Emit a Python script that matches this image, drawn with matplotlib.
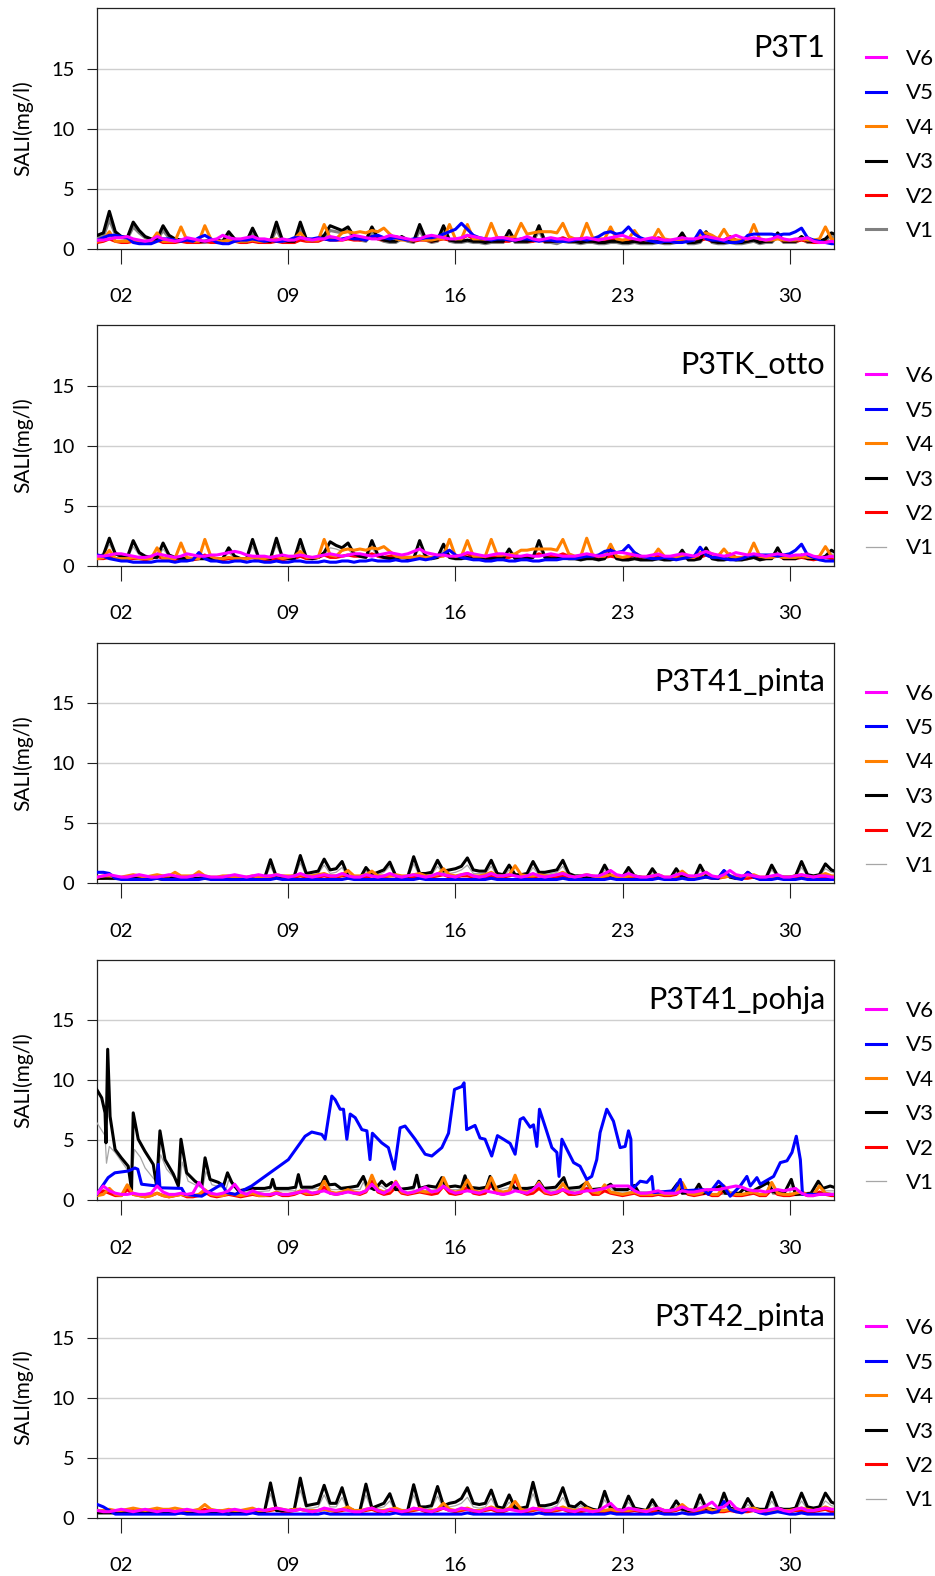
import numpy as np
import matplotlib
matplotlib.use("Agg")
import matplotlib.pyplot as plt

plt.rcParams['font.family'] = ['Lato', 'DejaVu Sans']

PANELS = ["P3T1", "P3TK_otto", "P3T41_pinta", "P3T41_pohja", "P3T42_pinta"]
SERIES = ["V6", "V5", "V4", "V3", "V2", "V1"]
XTICKS = [2, 9, 16, 23, 30]
XTICKLABELS = ["02", "09", "16", "23", "30"]
YTICKS = [0, 5, 10, 15]
YLABEL = "SALI(mg/l)"

# 6-hourly values starting day 1 00:00 (4 values per day)
# ---------------- P3T1 ----------------
P1_V6 = [0.7,0.7,0.8,0.9, 0.9,1.0,0.8,0.7, 0.6,0.7,1.0,0.8, 0.7,0.6,0.7,0.9, 0.8,0.7,0.6,0.7,
         0.8,1.1,0.9,0.8, 0.8,0.9,1.0,0.8, 0.8,0.7,0.7,0.8, 0.7,0.7,0.9,0.8, 0.7,0.8,0.8,1.0,
         0.9,0.7,0.9,1.1, 1.0,0.9,0.8,0.8, 0.9,1.1,1.0,0.9, 0.8,0.7,0.8,1.0, 1.1,1.0,0.9,0.8,
         0.8,0.9,1.1,1.0, 0.9,0.8,0.8,0.9, 0.9,0.8,0.7,0.8, 1.0,0.8,0.7,0.8, 0.9,0.8,0.8,0.7,
         0.8,0.8,0.9,0.8, 0.7,0.8,0.9,1.0, 1.1,0.9,0.8,0.7, 0.8,0.9,0.8,0.7, 0.7,0.8,0.9,0.8,
         0.8,0.9,1.0,0.9, 0.8,0.7,0.9,1.1, 0.9,0.8,0.9,0.8, 0.7,0.8,1.0,0.8, 0.7,0.8,0.8,0.9,
         0.6,0.5,0.5,0.6, 0.5]
P1_V5 = [0.7,0.9,1.1,1.1, 1.0,0.9,0.5,0.4, 0.4,0.4,0.6,0.8, 0.8,0.7,0.6,0.7, 0.6,0.9,1.1,0.8,
         0.5,0.4,0.4,0.6, 0.7,0.7,0.8,0.7, 0.6,0.7,0.6,0.6, 0.7,0.9,0.9,0.8, 0.8,0.9,0.8,0.7,
         0.7,0.8,0.9,0.8, 0.8,0.7,1.0,1.1, 0.9,0.8,0.9,0.8, 0.7,0.8,0.8,0.9, 0.9,1.0,1.2,1.4,
         1.6,2.1,1.6,1.1, 0.9,0.8,0.7,0.8, 0.8,0.7,0.7,0.8, 0.8,0.7,0.6,0.7, 0.7,0.6,0.6,0.6,
         0.7,0.8,0.7,0.8, 1.0,1.3,1.4,1.2, 1.3,1.8,1.2,0.9, 0.7,0.6,0.5,0.6, 0.6,0.5,0.5,0.6,
         0.7,1.5,0.8,0.7, 0.7,0.6,0.5,0.5, 0.6,1.1,1.2,1.2, 1.2,1.2,1.1,1.2, 1.2,1.4,1.7,0.9,
         0.7,0.6,0.5,0.4, 0.4]
P1_V4 = [0.6,0.7,1.4,0.6, 0.6,0.6,0.7,0.6, 0.6,0.6,1.3,0.6, 0.6,0.6,1.8,0.7, 0.6,0.6,1.9,0.8,
         0.6,0.6,0.7,0.6, 0.6,0.6,0.7,0.6, 0.6,0.7,0.8,0.6, 0.7,0.8,1.3,0.7, 0.7,0.7,2.0,0.9,
         0.8,1.3,1.4,1.3, 1.4,1.3,1.5,1.4, 1.7,1.2,0.8,0.7, 0.7,0.7,0.8,0.7, 0.7,0.8,0.8,2.0,
         0.8,0.8,2.0,0.8, 0.8,0.8,2.1,0.9, 0.9,0.9,1.0,2.1, 1.2,1.3,1.4,1.4, 1.4,1.3,2.1,1.0,
         0.8,0.8,2.1,0.9, 0.8,0.8,1.8,0.8, 0.7,0.8,1.5,0.8, 0.7,0.7,1.6,0.8, 0.7,0.7,0.8,0.7,
         0.7,1.2,1.3,1.1, 0.8,1.6,0.8,0.7, 0.7,0.8,2.0,0.8, 0.7,0.7,0.8,0.7, 0.7,0.7,0.8,0.7,
         0.7,0.8,1.8,0.8, 0.7]
P1_V3 = [1.1,1.3,3.1,1.4, 1.0,0.9,2.2,1.5, 1.0,0.8,0.8,1.9, 1.1,0.8,0.7,0.7, 0.7,0.6,0.6,0.7,
         0.7,0.6,1.4,0.8, 0.6,0.6,1.7,0.7, 0.6,0.6,2.2,0.7, 0.6,0.6,2.2,0.8, 0.7,0.8,1.1,1.9,
         1.7,1.5,1.8,1.0, 0.8,0.7,1.8,0.9, 0.7,0.6,0.6,1.0, 0.7,0.6,2.0,0.8, 0.6,0.7,1.9,0.7,
         0.6,0.6,0.7,0.6, 0.6,0.5,0.6,0.6, 0.6,1.5,0.6,0.6, 0.6,0.7,1.9,0.6, 0.6,0.6,0.8,0.6,
         0.6,0.5,0.6,0.6, 0.5,0.5,0.6,0.6, 0.5,0.5,0.6,0.5, 0.5,0.5,0.6,0.5, 0.5,0.6,1.3,0.5,
         0.5,0.6,1.4,0.6, 0.5,0.5,0.6,0.5, 0.5,0.6,0.7,0.5, 0.6,0.6,1.3,0.6, 0.6,0.6,1.0,0.6,
         0.6,0.6,0.8,1.3, 1.1]
P1_V2 = [0.5,0.6,0.8,0.6, 0.5,0.5,0.6,0.5, 0.5,0.5,0.7,0.5, 0.5,0.5,0.6,0.5, 0.5,0.5,0.6,0.5,
         0.5,0.6,0.7,0.6, 0.5,0.5,0.6,0.5, 0.5,0.5,0.6,0.5, 0.5,0.5,0.7,0.6, 0.6,0.6,0.8,0.7,
         0.7,0.7,0.8,0.7, 0.7,0.8,1.0,0.8, 0.7,0.9,1.0,0.8, 0.7,0.6,0.7,0.7, 0.6,0.7,0.8,0.7,
         0.7,0.8,1.1,0.8, 0.7,0.6,0.7,0.6, 0.6,0.6,0.8,0.7, 0.6,0.6,0.7,0.6, 0.6,0.7,0.9,0.7,
         0.6,0.6,0.7,0.6, 0.6,0.6,0.8,0.7, 0.6,0.6,0.7,0.6, 0.6,0.7,0.9,0.7, 0.6,0.6,0.7,0.6,
         0.6,0.7,0.8,0.6, 0.6,0.7,1.0,0.7, 0.6,0.6,0.8,0.6, 0.6,0.7,0.9,0.6, 0.6,0.6,0.7,0.6,
         0.5,0.5,0.6,0.5, 0.5]
P1_V1 = [0.9,1.0,2.4,1.2, 0.9,0.8,1.8,1.3, 0.9,0.7,0.7,1.5, 0.9,0.7,0.6,0.6, 0.6,0.5,0.5,0.6,
         0.6,0.5,1.1,0.7, 0.5,0.5,1.3,0.6, 0.5,0.5,1.6,0.6, 0.5,0.5,1.7,0.7, 0.6,0.7,0.9,1.5,
         1.4,1.3,1.5,0.9, 0.7,0.6,1.4,0.8, 0.6,0.5,0.5,0.8, 0.6,0.5,1.5,0.7, 0.5,0.6,1.5,0.6,
         0.5,0.5,0.6,0.5, 0.5,0.4,0.5,0.5, 0.5,1.2,0.5,0.5, 0.5,0.6,1.5,0.5, 0.5,0.4,0.6,0.5,
         0.5,0.4,0.5,0.5, 0.4,0.4,0.5,0.5, 0.4,0.4,0.5,0.4, 0.4,0.4,0.5,0.4, 0.4,0.5,1.0,0.4,
         0.4,0.5,1.1,0.5, 0.4,0.4,0.5,0.4, 0.4,0.5,0.6,0.4, 0.5,0.5,1.0,0.5, 0.5,0.5,0.8,0.5,
         0.5,0.5,0.7,1.0, 0.9]

# ---------------- P3TK_otto ----------------
P2_V6 = [0.8,0.8,0.9,1.0, 1.0,0.9,0.8,0.7, 0.7,0.8,1.0,0.9, 0.8,0.7,0.8,1.0, 0.9,0.8,0.8,0.9,
         0.9,1.0,1.1,1.2, 1.1,0.9,0.8,0.8, 0.8,0.7,0.8,0.9, 0.8,0.8,0.9,0.8, 0.7,0.8,0.9,1.0,
         0.9,0.8,0.9,1.0, 1.0,0.9,0.8,0.9, 1.0,1.1,1.0,0.9, 1.0,1.2,1.4,1.1, 1.0,0.9,0.9,0.8,
         0.8,0.9,1.1,1.0, 0.9,0.8,0.9,1.0, 1.0,0.9,0.8,0.8, 0.9,0.8,0.8,0.9, 1.0,0.9,0.8,0.8,
         0.8,0.9,1.0,0.9, 0.8,0.9,1.0,1.1, 1.1,1.0,0.9,0.8, 0.8,0.9,1.0,0.8, 0.8,0.9,1.0,0.9,
         0.8,1.0,1.2,1.0, 0.9,0.8,0.9,1.1, 1.0,0.9,1.0,0.9, 0.8,0.9,1.0,0.9, 0.8,0.9,0.9,1.0,
         0.8,0.7,0.7,0.8, 0.7]
P2_V5 = [0.9,0.8,0.6,0.5, 0.4,0.4,0.3,0.3, 0.3,0.3,0.4,0.4, 0.4,0.3,0.4,0.4, 0.5,1.1,0.6,0.4,
         0.4,0.3,0.3,0.4, 0.4,0.3,0.4,0.4, 0.3,0.3,0.4,0.3, 0.3,0.4,0.4,0.3, 0.3,0.3,0.4,0.3,
         0.3,0.4,0.4,0.3, 0.4,0.4,0.5,0.4, 0.4,0.4,0.5,0.4, 0.4,0.5,0.6,0.5, 0.6,0.8,1.0,1.3,
         0.9,0.7,0.6,0.5, 0.5,0.4,0.4,0.5, 0.5,0.4,0.4,0.5, 0.5,0.4,0.4,0.5, 0.5,0.5,0.6,0.6,
         0.6,0.7,0.8,0.8, 0.9,1.2,1.3,1.1, 1.2,1.7,1.1,0.8, 0.7,0.6,0.6,0.7, 0.6,0.5,0.6,0.7,
         0.8,1.55,0.9,0.7, 0.7,0.6,0.5,0.5, 0.6,0.8,0.9,0.9, 0.9,0.9,0.8,0.9, 1.0,1.3,1.8,0.9,
         0.7,0.5,0.4,0.4, 0.4]
P2_V4 = [0.6,0.7,1.3,0.6, 0.6,0.6,0.7,0.6, 0.6,0.6,1.5,0.6, 0.6,0.6,1.9,0.7, 0.6,0.6,2.2,0.8,
         0.6,0.6,0.7,0.6, 0.6,0.6,0.7,0.6, 0.6,0.7,0.8,0.6, 0.7,0.8,1.2,0.7, 0.7,0.7,2.2,0.9,
         0.8,1.3,1.4,1.3, 1.4,1.3,1.5,1.4, 1.6,1.2,0.8,0.7, 0.7,0.7,0.8,0.7, 0.7,0.8,0.8,2.2,
         0.8,0.8,2.1,0.8, 0.8,0.8,2.2,0.9, 0.9,0.9,1.0,1.3, 1.3,1.4,1.4,1.4, 1.4,1.3,2.2,1.0,
         0.8,0.8,2.3,0.9, 0.8,0.8,1.8,0.8, 0.7,0.8,1.1,0.8, 0.7,0.7,1.4,0.8, 0.7,0.7,0.8,0.7,
         0.7,1.1,1.2,1.0, 0.8,1.4,0.8,0.7, 0.7,0.8,1.9,0.8, 0.7,0.7,0.8,0.7, 0.7,0.7,0.8,0.7,
         0.7,0.8,1.6,0.8, 0.7]
P2_V3 = [0.8,0.9,2.3,1.0, 0.8,0.7,2.1,1.1, 0.8,0.7,0.7,1.9, 0.9,0.7,0.6,0.6, 0.6,0.6,0.6,0.6,
         0.6,0.6,1.5,0.8, 0.6,0.6,2.2,0.7, 0.6,0.6,2.3,0.7, 0.6,0.6,2.2,0.7, 0.6,0.7,1.1,2.0,
         1.7,1.5,1.9,1.0, 0.8,0.7,2.1,0.9, 0.7,0.6,0.6,0.8, 0.6,0.6,2.1,0.8, 0.6,0.7,1.8,0.7,
         0.6,0.6,0.7,0.6, 0.6,0.5,0.6,0.6, 0.6,1.4,0.6,0.6, 0.6,0.7,2.1,0.7, 0.6,0.6,0.7,0.6,
         0.6,0.5,0.6,0.6, 0.5,0.6,1.5,0.6, 0.5,0.5,0.6,0.5, 0.5,0.5,0.6,0.5, 0.5,0.6,1.3,0.5,
         0.5,0.6,1.5,0.6, 0.5,0.5,0.6,0.5, 0.5,0.6,0.7,0.5, 0.6,0.6,1.5,0.6, 0.6,0.6,0.9,0.6,
         0.6,0.6,0.8,1.3, 1.0]
P2_V2 = [0.6,0.6,0.7,0.6, 0.5,0.5,0.6,0.6, 0.5,0.6,0.8,0.6, 0.5,0.5,0.7,0.6, 0.5,0.6,0.9,0.6,
         0.5,0.5,0.6,0.5, 0.5,0.6,0.7,0.5, 0.5,0.5,0.6,0.5, 0.6,0.6,0.8,0.6, 0.6,0.7,0.9,0.7,
         0.7,0.8,0.9,0.8, 0.8,0.8,1.0,0.8, 0.7,0.8,0.9,0.7, 0.7,0.7,0.8,0.7, 0.7,0.7,0.9,0.8,
         0.7,0.8,1.0,0.8, 0.7,0.7,0.8,0.7, 0.7,0.7,0.9,0.7, 0.7,0.8,1.0,0.8, 0.8,0.8,1.0,0.8,
         0.7,0.7,0.9,0.7, 0.7,0.7,0.8,0.7, 0.6,0.7,0.9,0.7, 0.6,0.7,0.8,0.7, 0.6,0.6,0.7,0.6,
         0.6,0.7,0.9,0.7, 0.6,0.7,1.0,0.7, 0.6,0.6,0.8,0.6, 0.6,0.7,0.9,0.6, 0.6,0.6,0.7,0.6,
         0.5,0.6,0.7,0.6, 0.5]
P2_V1 = [0.7,0.8,1.8,0.9, 0.7,0.6,1.6,0.9, 0.7,0.6,0.6,1.4, 0.8,0.6,0.5,0.5, 0.5,0.5,0.5,0.5,
         0.5,0.5,1.1,0.6, 0.5,0.5,1.6,0.6, 0.5,0.5,1.7,0.6, 0.5,0.5,1.6,0.6, 0.5,0.6,0.9,1.5,
         1.4,1.2,1.4,0.8, 0.7,0.6,1.5,0.7, 0.6,0.5,0.5,0.6, 0.5,0.5,1.5,0.6, 0.5,0.6,1.3,0.6,
         0.5,0.5,0.6,0.5, 0.5,0.4,0.5,0.5, 0.5,1.0,0.5,0.5, 0.5,0.6,1.5,0.6, 0.5,0.5,0.6,0.5,
         0.5,0.4,0.5,0.5, 0.4,0.5,1.1,0.5, 0.4,0.4,0.5,0.4, 0.4,0.4,0.5,0.4, 0.4,0.5,1.0,0.4,
         0.4,0.5,1.1,0.5, 0.4,0.4,0.5,0.4, 0.4,0.5,0.6,0.4, 0.5,0.5,1.1,0.5, 0.5,0.5,0.7,0.5,
         0.5,0.5,0.6,1.0, 0.8]

# ---------------- P3T41_pinta ----------------
P3_V6 = [0.5,0.6,0.7,0.6, 0.5,0.5,0.6,0.7, 0.6,0.5,0.5,0.6, 0.7,0.6,0.5,0.5, 0.6,0.7,0.6,0.5,
         0.5,0.5,0.6,0.7, 0.6,0.5,0.6,0.7, 0.6,0.6,0.7,0.6, 0.5,0.6,0.8,0.6, 0.5,0.6,0.7,0.6,
         0.6,0.8,0.6,0.5, 0.5,0.7,0.6,0.5, 0.6,0.8,0.6,0.5, 0.6,0.7,0.6,0.5, 0.6,0.8,0.7,0.6,
         0.5,0.7,0.8,0.6, 0.5,0.6,0.8,0.6, 0.6,0.7,0.6,0.5, 0.6,0.8,0.6,0.5, 0.6,0.7,0.8,0.6,
         0.5,0.6,0.7,0.6, 0.6,0.8,1.05,0.7, 0.6,0.8,0.6,0.5, 0.5,0.6,0.7,0.5, 0.5,0.7,0.8,0.6,
         0.6,0.7,0.9,0.6, 0.5,0.7,1.05,0.7, 0.6,0.7,0.6,0.5, 0.5,0.6,0.7,0.5, 0.5,0.6,0.7,0.6,
         0.5,0.6,0.6,0.5, 0.5]
P3_V5 = [0.9,0.9,0.8,0.4, 0.3,0.3,0.3,0.3, 0.3,0.3,0.4,0.3, 0.3,0.3,0.3,0.3, 0.3,0.3,0.4,0.3,
         0.3,0.3,0.3,0.3, 0.3,0.3,0.3,0.3, 0.3,0.3,0.4,0.3, 0.3,0.3,0.3,0.3, 0.3,0.3,0.3,0.3,
         0.3,0.3,0.4,0.3, 0.3,0.3,0.3,0.3, 0.3,0.3,0.3,0.3, 0.3,0.3,0.4,0.3, 0.3,0.3,0.3,0.3,
         0.3,0.3,0.3,0.3, 0.3,0.3,0.4,0.3, 0.3,0.3,0.3,0.3, 0.3,0.3,0.3,0.3, 0.3,0.3,0.4,0.3,
         0.3,0.3,0.3,0.3, 0.3,0.3,0.4,0.3, 0.3,0.3,0.3,0.3, 0.3,0.3,0.4,0.3, 0.3,0.3,0.4,0.3,
         0.3,0.4,0.5,0.4, 0.4,1.05,0.6,0.4, 0.3,0.9,0.5,0.3, 0.3,0.3,0.4,0.3, 0.3,0.3,0.4,0.3,
         0.3,0.3,0.3,0.3, 0.3]
P3_V4 = [0.5,0.6,0.6,0.5, 0.5,0.6,0.7,0.6, 0.5,0.6,0.7,0.6, 0.6,0.9,0.6,0.6, 0.6,0.95,0.6,0.5,
         0.5,0.6,0.6,0.5, 0.5,0.5,0.6,0.5, 0.5,0.6,0.7,0.6, 0.6,0.6,0.7,0.6, 0.6,0.7,0.8,0.6,
         0.6,0.7,1.05,0.6, 0.6,0.7,1.0,0.6, 0.6,0.6,0.7,0.6, 0.6,0.7,0.8,0.6, 0.6,0.7,1.2,0.7,
         0.6,0.7,0.8,0.6, 0.6,0.7,0.9,0.6, 0.6,0.7,1.45,0.7, 0.6,0.6,0.7,0.6, 0.6,0.7,0.9,0.6,
         0.5,0.6,0.7,0.6, 0.5,0.6,0.7,0.5, 0.5,0.6,0.6,0.5, 0.5,0.6,0.7,0.5, 0.5,0.6,1.0,0.6,
         0.5,0.6,0.9,0.5, 0.5,0.5,0.6,0.5, 0.5,0.6,0.7,0.5, 0.5,0.5,0.6,0.5, 0.5,0.6,0.7,0.5,
         0.5,0.6,0.8,0.6, 0.6]
P3_V3 = [0.4,0.4,0.4,0.4, 0.4,0.4,0.4,0.4, 0.4,0.4,0.4,0.3, 0.4,0.5,0.4,0.4, 0.4,0.4,0.4,0.4,
         0.4,0.4,0.3,0.3, 0.3,0.4,0.4,0.4, 0.4,1.95,0.5,0.5, 0.5,0.6,2.3,0.8, 0.9,1.0,2.0,1.1,
         1.2,1.8,0.6,0.4, 0.4,1.3,0.7,0.9, 1.1,1.75,0.6,0.5, 0.5,2.2,0.8,0.8, 0.9,1.9,1.0,1.1,
         1.2,1.4,2.1,1.1, 1.0,1.0,1.9,0.8, 0.7,1.5,0.7,0.7, 0.8,1.8,0.9,0.9, 1.0,1.1,1.9,0.8,
         0.6,0.6,0.5,0.5, 0.5,1.5,0.6,0.5, 0.5,1.3,0.6,0.5, 0.4,1.2,0.5,0.4, 0.4,1.2,0.5,0.4,
         0.4,1.5,0.6,0.5, 0.4,1.0,0.5,0.4, 0.4,0.9,0.5,0.4, 0.4,1.5,0.6,0.5, 0.5,0.6,1.8,0.7,
         0.6,0.7,1.6,1.1, 0.9]
P3_V2 = [0.4,0.4,0.5,0.4, 0.4,0.4,0.5,0.4, 0.4,0.4,0.5,0.4, 0.4,0.5,0.5,0.4, 0.4,0.4,0.5,0.4,
         0.4,0.4,0.4,0.4, 0.4,0.4,0.5,0.4, 0.4,0.5,0.5,0.4, 0.4,0.5,0.6,0.5, 0.5,0.5,0.6,0.5,
         0.5,0.6,0.6,0.5, 0.5,0.5,0.6,0.5, 0.5,0.6,0.6,0.5, 0.5,0.5,0.6,0.5, 0.5,0.6,0.7,0.5,
         0.5,0.6,0.6,0.5, 0.5,0.5,0.6,0.5, 0.5,0.6,0.7,0.5, 0.5,0.5,0.6,0.5, 0.5,0.5,0.6,0.5,
         0.4,0.5,0.5,0.4, 0.4,0.5,0.5,0.4, 0.4,0.4,0.5,0.4, 0.4,0.4,0.5,0.4, 0.4,0.5,0.6,0.4,
         0.4,0.5,0.5,0.4, 0.4,0.5,0.6,0.4, 0.4,0.4,0.5,0.4, 0.4,0.4,0.5,0.4, 0.4,0.5,0.5,0.4,
         0.4,0.4,0.5,0.4, 0.4]
P3_V1 = [0.4,0.4,0.3,0.3, 0.3,0.3,0.4,0.3, 0.3,0.3,0.3,0.3, 0.3,0.4,0.3,0.3, 0.3,0.3,0.3,0.3,
         0.3,0.3,0.3,0.3, 0.3,0.3,0.3,0.3, 0.3,1.4,0.4,0.4, 0.4,0.5,1.7,0.6, 0.7,0.8,1.5,0.8,
         0.9,1.3,0.5,0.3, 0.3,1.0,0.6,0.7, 0.9,1.4,0.5,0.4, 0.4,1.6,0.6,0.6, 0.7,1.4,0.8,0.8,
         0.9,1.1,1.5,0.8, 0.8,0.8,1.4,0.6, 0.5,1.1,0.5,0.5, 0.6,1.3,0.7,0.7, 0.8,0.9,1.4,0.6,
         0.5,0.5,0.4,0.4, 0.4,1.1,0.5,0.4, 0.4,1.0,0.5,0.4, 0.3,0.9,0.4,0.3, 0.3,0.9,0.4,0.3,
         0.3,1.1,0.5,0.4, 0.3,0.8,0.4,0.3, 0.3,0.7,0.4,0.3, 0.3,1.1,0.5,0.4, 0.4,0.5,1.3,0.6,
         0.5,0.6,1.2,0.9, 0.8]

# ---------------- P3T41_pohja ----------------
P4_V6 = [0.6,1.2,0.8,0.6, 0.5,0.5,0.6,0.5, 0.5,0.6,1.2,0.7, 0.5,0.5,0.6,0.5, 0.6,1.5,0.8,0.6,
         0.5,0.6,0.8,1.35, 0.7,0.5,0.8,0.6, 0.5,0.5,0.6,0.5, 0.5,0.6,0.7,0.8, 0.6,0.7,0.8,0.6,
         0.5,0.6,0.7,0.6, 0.6,0.8,1.35,0.8, 0.6,0.9,1.5,0.8, 0.6,0.7,0.9,1.1, 0.7,0.8,1.2,0.8,
         0.6,0.7,0.8,0.7, 0.6,0.8,0.7,0.6, 0.5,0.6,0.8,0.7, 0.6,0.9,1.35,0.8, 0.6,0.7,0.9,0.7,
         0.6,0.7,0.8,0.8, 0.9,1.0,1.2,1.2, 1.2,1.2,0.8,0.6, 0.6,0.7,0.8,0.6, 0.6,0.6,0.8,0.7,
         0.7,0.8,0.9,0.9, 0.9,1.0,1.1,1.2, 1.1,0.9,0.8,0.8, 0.7,0.8,0.9,0.8, 0.9,1.0,0.6,0.4,
         0.4,0.5,0.5,0.5, 0.5]
P4_V5 = [(0.97,0.5),(1.45,1.9),(1.73,2.3),(2.29,2.45),(2.57,2.7),(2.69,2.6),(2.85,1.35),
         (3.48,1.2),(3.55,3.0),(3.62,1.05),(4.53,1.0),(4.67,0.5),(5.37,0.35),(6.21,1.35),
         (6.42,0.65),(6.77,0.5),(7.46,1.2),(8.44,2.6),(9.0,3.4),(9.70,5.35),(9.98,5.7),
         (10.40,5.5),(10.54,5.1),(10.82,8.7),(10.96,8.4),(11.17,7.6),(11.31,7.6),(11.45,5.1),
         (11.59,7.2),(11.80,6.9),(12.08,5.9),(12.29,5.8),(12.42,3.4),(12.52,5.6),(12.91,4.8),
         (13.19,4.4),(13.44,2.6),(13.68,6.05),(13.89,6.2),(14.31,5.1),(14.73,3.85),(15.01,3.7),
         (15.43,4.4),(15.71,5.6),(15.96,9.25),(16.27,9.5),(16.36,9.8),(16.47,5.9),(16.82,6.25),
         (17.03,5.2),(17.24,5.1),(17.52,3.7),(17.76,5.4),(18.01,5.1),(18.29,4.75),(18.5,3.85),
         (18.71,6.75),(18.85,6.9),(19.13,6.1),(19.27,6.3),(19.41,4.5),(19.52,7.6),(19.8,5.9),
         (20.04,4.4),(20.25,4.0),(20.34,2.0),(20.46,5.1),(20.67,4.25),(20.95,3.15),(21.22,2.85),
         (21.5,1.75),(21.71,2.0),(21.92,3.4),(22.06,5.65),(22.34,7.6),(22.62,6.6),(22.9,4.4),
         (23.11,4.5),(23.25,5.8),(23.35,5.1),(23.39,0.9),(23.74,1.6),(24.02,1.5),(24.23,2.0),
         (24.3,0.65),(25.14,0.8),(25.42,1.75),(25.53,0.8),(26.39,0.9),(26.6,0.5),(27.02,1.6),
         (27.23,1.2),(27.51,0.35),(27.93,1.2),(28.21,2.0),(28.35,1.2),(28.63,1.9),(28.77,1.35),
         (29.33,2.0),(29.61,3.15),(29.89,3.3),(30.1,4.0),(30.28,5.35),(30.45,3.4),(30.54,0.5),
         (31.91,0.5)]
P4_V4 = [0.4,0.5,1.0,0.5, 0.4,1.3,0.5,0.4, 0.3,0.4,0.6,0.4, 0.3,0.4,0.5,0.4, 0.4,0.5,0.9,0.5,
         0.4,0.4,0.6,0.5, 0.4,0.5,0.6,0.4, 0.4,0.5,0.7,0.5, 0.5,0.6,0.8,0.6, 0.6,0.7,1.6,0.7,
         0.6,0.7,0.9,0.7, 0.6,0.8,2.1,0.9, 0.7,0.8,1.6,0.7, 0.6,0.7,0.8,0.7, 0.7,0.8,1.9,0.8,
         0.7,0.8,1.7,0.8, 0.7,0.8,1.9,0.8, 0.7,0.8,2.1,0.8, 0.7,0.8,1.5,0.7, 0.6,0.7,1.4,0.7,
         0.6,0.7,1.6,0.7, 0.6,1.3,0.7,0.6, 0.5,0.6,0.7,0.5, 0.5,0.5,0.6,0.5, 0.5,0.6,1.5,0.6,
         0.5,0.6,0.8,0.5, 0.5,1.2,0.6,0.5, 0.5,0.6,0.7,0.5, 0.5,1.5,0.6,0.5, 0.5,0.6,0.7,0.5,
         0.5,1.2,0.6,0.5, 0.5]
P4_V3 = [(0.97,9.25),(1.18,8.55),(1.32,7.3),(1.36,4.8),(1.43,12.6),(1.53,7.0),(1.74,4.25),
         (2.0,3.55),(2.29,2.85),(2.43,0.9),(2.5,7.3),(2.71,5.1),(2.99,4.1),(3.34,3.0),(3.48,1.2),
         (3.62,5.8),(3.83,3.4),(4.18,2.2),(4.39,1.2),(4.5,5.1),(4.74,2.3),(5.09,1.6),(5.37,1.2),
         (5.51,3.55),(5.72,1.75),(6.07,1.5),(6.28,1.2),(6.45,2.3),(6.63,1.5),(6.91,0.8),(7.5,1.0),
         (8.0,1.0),(8.25,1.1),(8.34,1.75),(8.45,1.0),(9.0,1.0),(9.3,1.1),(9.42,2.15),(9.55,1.1),
         (10.0,1.1),(10.4,1.4),(10.54,2.0),(10.7,1.3),(10.96,1.35),(11.2,1.0),(11.6,1.1),
         (11.9,1.2),(12.14,2.0),(12.3,1.2),(12.6,0.9),(12.91,1.6),(13.1,1.2),(13.33,1.5),
         (13.5,0.9),(14.0,1.0),(14.25,1.1),(14.38,2.1),(14.5,1.0),(14.87,1.2),(15.2,1.1),
         (15.43,1.9),(15.6,1.1),(15.99,1.2),(16.25,1.1),(16.4,2.05),(16.55,1.1),(17.0,1.0),
         (17.3,1.1),(17.45,2.0),(17.6,1.0),(17.9,1.2),(18.3,1.5),(18.5,1.0),(19.0,1.0),
         (19.35,1.1),(19.5,1.6),(19.7,1.0),(20.2,1.1),(20.54,1.9),(20.7,1.0),(21.2,1.1),
         (21.5,1.5),(21.7,0.9),(22.2,1.0),(22.5,1.35),(22.7,0.9),(23.2,0.9),(23.5,1.25),
         (23.7,0.6),(24.2,0.6),(24.5,0.7),(25.0,0.6),(25.3,1.4),(25.5,0.6),(26.0,0.7),
         (26.2,1.35),(26.4,0.6),(27.1,1.2),(27.3,0.6),(27.9,0.6),(28.1,1.0),(28.3,0.6),
         (29.1,1.5),(29.3,0.7),(29.8,0.7),(30.07,1.75),(30.25,0.5),(30.9,0.6),(31.2,1.6),
         (31.4,1.0),(31.7,1.2),(32.0,1.0)]
P4_V2 = [0.5,0.8,0.6,0.4, 0.4,0.9,0.5,0.4, 0.3,0.4,0.6,0.4, 0.3,0.4,0.5,0.3, 0.3,0.4,0.7,0.4,
         0.3,0.4,0.5,0.4, 0.3,0.4,0.5,0.4, 0.4,0.4,0.6,0.4, 0.4,0.5,0.7,0.5, 0.5,0.6,1.1,0.6,
         0.5,0.6,0.8,0.6, 0.5,0.7,1.6,0.7, 0.5,0.6,1.1,0.6, 0.5,0.6,0.7,0.6, 0.5,0.6,1.2,0.6,
         0.5,0.6,1.1,0.6, 0.5,0.6,1.3,0.6, 0.5,0.7,1.8,0.7, 0.5,0.6,1.0,0.6, 0.5,0.6,0.9,0.5,
         0.5,0.6,1.0,0.5, 0.5,0.8,0.6,0.5, 0.4,0.5,0.6,0.4, 0.4,0.4,0.5,0.4, 0.4,0.5,0.9,0.5,
         0.4,0.5,0.6,0.4, 0.4,0.8,0.5,0.4, 0.4,0.5,0.6,0.4, 0.4,0.9,0.5,0.4, 0.4,0.5,0.6,0.4,
         0.4,0.7,0.5,0.4, 0.4]
P4_V1 = [(0.97,6.5),(1.32,5.4),(1.38,3.1),(1.5,4.5),(1.74,4.0),(2.29,2.45),(2.45,2.2),
         (2.55,4.25),(2.8,3.6),(3.0,2.7),(3.48,1.5),(3.65,3.8),(3.9,2.6),(4.3,1.7),(4.45,1.4),
         (4.55,3.2),(4.8,1.6),(5.4,1.0),(5.55,2.4),(5.8,1.3),(6.4,1.0),(6.5,1.7),(6.9,0.7),
         (7.5,0.7),(8.2,0.8),(8.34,1.3),(8.5,0.8),(9.3,0.8),(9.42,1.6),(9.6,0.9),(10.4,1.0),
         (10.54,1.5),(10.8,0.9),(12.0,0.9),(12.14,1.5),(12.3,0.9),(12.9,1.2),(13.1,0.9),
         (14.25,0.9),(14.38,1.6),(14.5,0.8),(15.3,0.9),(15.43,1.4),(15.6,0.9),(16.25,0.9),
         (16.4,1.5),(16.55,0.9),(17.3,0.9),(17.45,1.5),(17.6,0.8),(18.3,1.1),(18.5,0.8),
         (19.35,0.9),(19.5,1.2),(19.7,0.8),(20.4,0.9),(20.54,1.4),(20.7,0.8),(21.4,0.9),
         (21.5,1.1),(21.7,0.7),(22.4,0.8),(22.5,1.0),(22.7,0.7),(23.4,0.7),(23.5,0.9),
         (23.7,0.5),(25.2,0.5),(25.3,1.0),(25.5,0.5),(26.1,0.5),(26.2,1.0),(26.4,0.5),
         (29.0,0.5),(29.1,1.1),(29.3,0.5),(30.0,0.5),(30.07,1.3),(30.25,0.4),(31.1,0.5),
         (31.2,1.2),(31.4,0.8),(32.0,0.8)]

# ---------------- P3T42_pinta ----------------
P5_V6 = [0.6,0.5,0.5,0.6, 0.7,0.6,0.5,0.6, 0.7,0.6,0.5,0.6, 0.6,0.5,0.6,0.7, 0.6,0.5,0.5,0.6,
         0.6,0.5,0.6,0.7, 0.6,0.5,0.6,0.7, 0.6,0.7,0.8,0.7, 0.6,0.6,0.7,0.6, 0.5,0.6,0.8,0.7,
         0.6,0.7,0.6,0.5, 0.5,0.7,0.8,0.6, 0.5,0.7,0.6,0.5, 0.6,0.8,0.7,0.6, 0.5,0.7,0.8,0.6,
         0.6,0.8,0.7,0.6, 0.5,0.7,0.8,0.6, 0.6,0.7,0.6,0.5, 0.6,0.8,0.7,0.6, 0.6,0.8,0.7,0.6,
         0.5,0.7,0.6,0.5, 0.6,0.9,1.2,0.7, 0.6,0.8,0.7,0.6, 0.5,0.7,0.8,0.6, 0.6,0.7,0.9,0.7,
         0.6,0.8,1.0,1.3, 0.8,0.9,1.35,0.8, 0.6,0.7,0.6,0.5, 0.6,0.7,0.8,0.6, 0.5,0.7,0.8,0.6,
         0.6,0.7,0.8,0.7, 0.7]
P5_V5 = [1.1,0.9,0.6,0.3, 0.3,0.3,0.3,0.3, 0.3,0.3,0.3,0.3, 0.3,0.3,0.4,0.3, 0.3,0.3,0.3,0.3,
         0.3,0.3,0.3,0.3, 0.3,0.3,0.4,0.3, 0.3,0.3,0.3,0.3, 0.3,0.3,0.3,0.3, 0.3,0.3,0.4,0.3,
         0.3,0.3,0.3,0.3, 0.3,0.3,0.3,0.3, 0.3,0.3,0.4,0.3, 0.3,0.3,0.3,0.3, 0.3,0.3,0.3,0.3,
         0.3,0.3,0.4,0.3, 0.3,0.3,0.3,0.3, 0.3,0.3,0.3,0.3, 0.3,0.3,0.4,0.3, 0.3,0.3,0.3,0.3,
         0.3,0.3,0.3,0.3, 0.3,0.3,0.4,0.3, 0.3,0.3,0.3,0.3, 0.3,0.3,0.4,0.3, 0.3,0.3,0.4,0.3,
         0.3,0.4,0.5,0.4, 0.5,1.35,0.7,0.5, 0.4,0.7,0.6,0.4, 0.3,0.4,0.5,0.4, 0.3,0.3,0.4,0.3,
         0.3,0.3,0.3,0.3, 0.3]
P5_V4 = [0.6,0.6,0.7,0.6, 0.6,0.7,0.8,0.7, 0.6,0.7,0.8,0.7, 0.7,0.8,0.7,0.6, 0.6,0.7,1.1,0.7,
         0.6,0.6,0.7,0.6, 0.6,0.7,0.8,0.6, 0.6,0.7,0.8,0.7, 0.6,0.7,0.7,0.6, 0.6,0.6,0.7,0.6,
         0.6,0.7,0.9,0.6, 0.6,0.7,0.8,0.6, 0.6,0.7,0.8,0.6, 0.6,0.7,0.8,0.6, 0.6,0.7,1.2,0.7,
         0.6,0.7,0.8,0.6, 0.6,0.7,0.9,0.7, 0.6,0.8,1.35,0.7, 0.6,0.7,0.8,0.6, 0.6,0.7,0.9,0.7,
         0.6,0.7,0.8,0.6, 0.6,0.6,0.7,0.6, 0.6,0.6,0.7,0.6, 0.6,0.7,0.8,0.6, 0.6,0.7,1.1,0.7,
         0.6,0.7,0.9,0.6, 0.6,0.6,0.7,0.6, 0.6,0.7,0.8,0.6, 0.6,0.6,0.7,0.6, 0.6,0.7,0.8,0.7,
         0.6,0.7,0.9,0.7, 0.7]
P5_V3 = [0.4,0.4,0.4,0.4, 0.4,0.4,0.4,0.4, 0.4,0.4,0.5,0.4, 0.4,0.4,0.4,0.4, 0.4,0.4,0.4,0.4,
         0.4,0.4,0.3,0.4, 0.4,0.4,0.5,0.4, 0.5,2.9,0.6,0.6, 0.6,0.7,3.3,1.0, 1.1,1.2,2.7,1.2,
         1.2,2.5,0.8,0.6, 0.6,2.8,0.8,1.0, 1.2,2.0,0.6,0.6, 0.6,2.75,0.9,0.9, 1.0,2.6,1.0,1.2,
         1.3,1.6,2.5,1.2, 1.1,1.2,2.3,0.9, 0.8,1.9,0.8,0.8, 0.9,2.95,1.0,1.0, 1.1,1.3,2.5,1.0,
         0.9,1.3,0.9,0.7, 0.6,2.2,0.8,0.7, 0.6,1.8,0.8,0.7, 0.6,1.5,0.7,0.6, 0.6,1.4,0.7,0.6,
         0.6,1.9,0.8,0.7, 0.6,2.05,0.8,0.7, 0.6,1.6,0.8,0.7, 0.7,2.1,0.8,0.7, 0.7,0.8,2.05,0.9,
         0.8,0.9,2.05,1.3, 1.1]
P5_V2 = [0.5,0.5,0.6,0.5, 0.5,0.5,0.6,0.5, 0.5,0.6,0.6,0.5, 0.5,0.5,0.6,0.5, 0.5,0.5,0.7,0.5,
         0.5,0.5,0.6,0.5, 0.5,0.5,0.6,0.5, 0.5,0.6,0.7,0.5, 0.5,0.6,0.7,0.6, 0.5,0.6,0.7,0.6,
         0.5,0.6,0.7,0.5, 0.5,0.6,0.7,0.5, 0.5,0.6,0.6,0.5, 0.5,0.6,0.7,0.5, 0.5,0.6,0.8,0.6,
         0.5,0.6,0.7,0.5, 0.5,0.6,0.7,0.5, 0.5,0.7,0.9,0.6, 0.5,0.6,0.7,0.5, 0.5,0.6,0.7,0.5,
         0.5,0.5,0.6,0.5, 0.5,0.5,0.6,0.5, 0.5,0.5,0.6,0.5, 0.5,0.5,0.6,0.5, 0.5,0.6,0.8,0.5,
         0.5,0.6,0.7,0.5, 0.5,0.5,0.6,0.5, 0.5,0.5,0.6,0.5, 0.5,0.5,0.6,0.5, 0.5,0.6,0.6,0.5,
         0.5,0.6,0.7,0.5, 0.5]
P5_V1 = [0.35,0.35,0.35,0.35, 0.35,0.35,0.35,0.35, 0.35,0.35,0.4,0.35, 0.35,0.35,0.35,0.35,
         0.35,0.35,0.35,0.35, 0.35,0.35,0.3,0.35, 0.35,0.35,0.4,0.35,
         0.4,2.0,0.5,0.5, 0.5,0.6,2.3,0.8, 0.8,0.9,1.9,0.9, 0.9,1.7,0.6,0.5, 0.5,1.9,0.6,0.8,
         0.9,1.4,0.5,0.5, 0.5,1.9,0.7,0.7, 0.8,1.8,0.8,0.9, 1.0,1.2,1.7,0.9, 0.8,0.9,1.6,0.7,
         0.6,1.3,0.6,0.6, 0.7,2.0,0.8,0.8, 0.8,1.0,1.7,0.8, 0.7,1.0,0.7,0.5, 0.5,1.5,0.6,0.5,
         0.5,1.3,0.6,0.5, 0.5,1.1,0.5,0.5, 0.5,1.0,0.5,0.5, 0.5,1.3,0.6,0.5, 0.5,1.4,0.6,0.5,
         0.5,1.1,0.6,0.5, 0.5,1.4,0.6,0.5, 0.5,0.6,1.4,0.7, 0.6,0.7,1.4,1.0, 0.9]

PANEL_DATA = [
    {"V6": P1_V6, "V5": P1_V5, "V4": P1_V4, "V3": P1_V3, "V2": P1_V2, "V1": P1_V1},
    {"V6": P2_V6, "V5": P2_V5, "V4": P2_V4, "V3": P2_V3, "V2": P2_V2, "V1": P2_V1},
    {"V6": P3_V6, "V5": P3_V5, "V4": P3_V4, "V3": P3_V3, "V2": P3_V2, "V1": P3_V1},
    {"V6": P4_V6, "V5": P4_V5, "V4": P4_V4, "V3": P4_V3, "V2": P4_V2, "V1": P4_V1},
    {"V6": P5_V6, "V5": P5_V5, "V4": P5_V4, "V3": P5_V3, "V2": P5_V2, "V1": P5_V1},
]

COLORS = {"V6": "#ff00ff", "V5": "#0000ff", "V4": "#ff8000",
          "V3": "#000000", "V2": "#ff0000", "V1": "#808080"}


def series_xy(vals):
    if isinstance(vals[0], tuple):
        t = [p[0] for p in vals]
        v = [p[1] for p in vals]
        return np.array(t), np.array(v)
    v = np.array(vals, dtype=float)
    t = 1.0 + 0.25 * np.arange(len(v))
    return t, v


W, H = 935, 1576
fig = plt.figure(figsize=(W / 100, H / 100), dpi=100)

for i, name in enumerate(PANELS):
    bottom_px = 248.5 + 317.3 * i
    ax = fig.add_axes([96.7 / W, 1 - bottom_px / H, 737.3 / W, 240.5 / H])
    data = PANEL_DATA[i]
    handles = {}
    for s in ["V1", "V2", "V3", "V4", "V5", "V6"]:
        t, v = series_xy(data[s])
        if s == "V1" and i > 0:
            col, lw = "#a6a6a6", 0.9
        else:
            col, lw = COLORS[s], 2.2
        ln, = ax.plot(t, v, color=col, lw=lw, solid_joinstyle='round', zorder=3)
        handles[s] = ln
    ax.set_xlim(0.97, 31.86)
    ax.set_ylim(0, 20.05)
    ax.set_yticks(YTICKS)
    ax.set_xticks(XTICKS)
    ax.set_xticklabels(XTICKLABELS)
    for yv in [5, 10, 15]:
        ax.axhline(yv, color="#cfcfcf", lw=1.0, zorder=1)
    for sp in ax.spines.values():
        sp.set_color("#222222")
        sp.set_linewidth(0.9)
    ax.tick_params(axis='x', direction='out', length=10.5, width=0.8, pad=18,
                   labelsize=14.5, color="#222222")
    ax.tick_params(axis='y', direction='out', length=7, width=0.8, pad=9,
                   labelsize=14.5, color="#222222")
    ax.text(-0.1004, 0.5, YLABEL, transform=ax.transAxes, rotation=90,
            ha='center', va='center', fontsize=15)
    ax.text(0.988, 0.835, name, transform=ax.transAxes, ha='right', va='center',
            fontsize=22)
    ax.legend([handles[s] for s in SERIES], SERIES, loc='center left',
              bbox_to_anchor=(1.0434, 0.43), frameon=False, fontsize=16,
              handlelength=0.9, handletextpad=0.9, labelspacing=0.65,
              borderpad=0, borderaxespad=0)

fig.savefig("out.png", dpi=100)
